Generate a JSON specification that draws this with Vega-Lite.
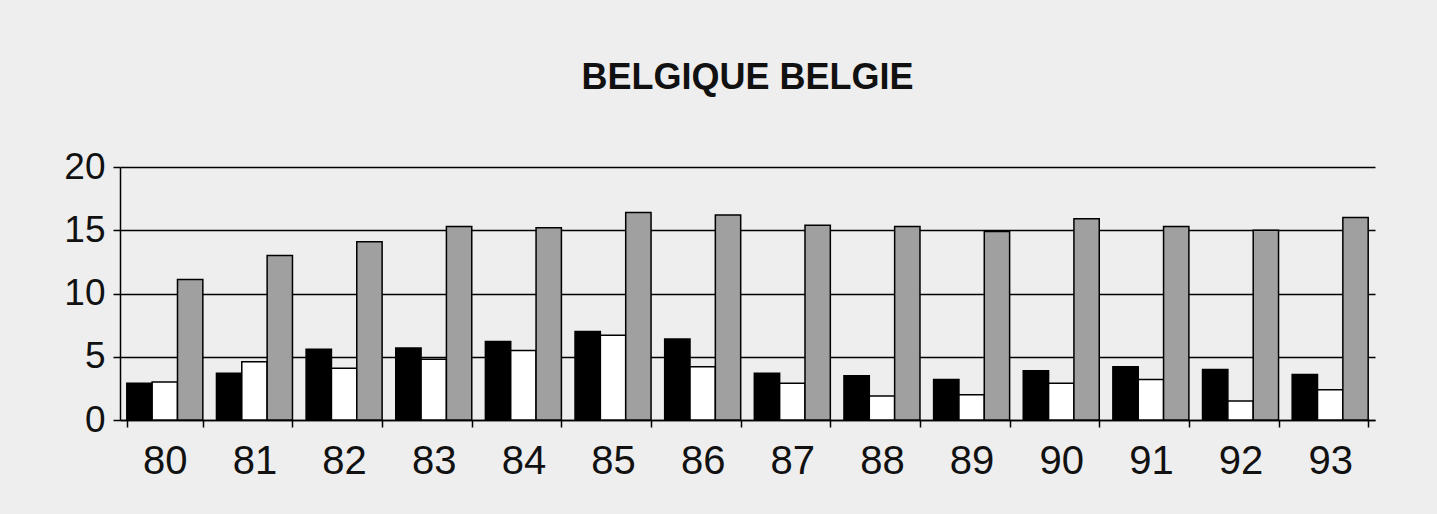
{
  "$schema": "https://vega.github.io/schema/vega-lite/v6.json",
  "width": 1255,
  "height": 253,
  "autosize": {"type": "none"},
  "padding": {"left": 120, "top": 167, "right": 62, "bottom": 94},
  "background": "#eeeeee",
  "title": {
    "text": "BELGIQUE BELGIE",
    "font": "Liberation Sans",
    "fontWeight": "bold",
    "fontSize": 36,
    "color": "#111111",
    "anchor": "middle",
    "offset": 51
  },
  "config": {
    "view": {"stroke": null},
    "axis": {"labelFont": "Liberation Sans", "labelColor": "#111111"}
  },
  "data": {
    "values": [
      {"year": "80", "series": "a", "value": 2.9},
      {"year": "80", "series": "b", "value": 3.0},
      {"year": "80", "series": "c", "value": 11.1},
      {"year": "81", "series": "a", "value": 3.7},
      {"year": "81", "series": "b", "value": 4.6},
      {"year": "81", "series": "c", "value": 13.0},
      {"year": "82", "series": "a", "value": 5.6},
      {"year": "82", "series": "b", "value": 4.1},
      {"year": "82", "series": "c", "value": 14.1},
      {"year": "83", "series": "a", "value": 5.7},
      {"year": "83", "series": "b", "value": 4.8},
      {"year": "83", "series": "c", "value": 15.3},
      {"year": "84", "series": "a", "value": 6.2},
      {"year": "84", "series": "b", "value": 5.5},
      {"year": "84", "series": "c", "value": 15.2},
      {"year": "85", "series": "a", "value": 7.0},
      {"year": "85", "series": "b", "value": 6.7},
      {"year": "85", "series": "c", "value": 16.4},
      {"year": "86", "series": "a", "value": 6.4},
      {"year": "86", "series": "b", "value": 4.2},
      {"year": "86", "series": "c", "value": 16.2},
      {"year": "87", "series": "a", "value": 3.7},
      {"year": "87", "series": "b", "value": 2.9},
      {"year": "87", "series": "c", "value": 15.4},
      {"year": "88", "series": "a", "value": 3.5},
      {"year": "88", "series": "b", "value": 1.9},
      {"year": "88", "series": "c", "value": 15.3},
      {"year": "89", "series": "a", "value": 3.2},
      {"year": "89", "series": "b", "value": 2.0},
      {"year": "89", "series": "c", "value": 14.9},
      {"year": "90", "series": "a", "value": 3.9},
      {"year": "90", "series": "b", "value": 2.9},
      {"year": "90", "series": "c", "value": 15.9},
      {"year": "91", "series": "a", "value": 4.2},
      {"year": "91", "series": "b", "value": 3.2},
      {"year": "91", "series": "c", "value": 15.3},
      {"year": "92", "series": "a", "value": 4.0},
      {"year": "92", "series": "b", "value": 1.5},
      {"year": "92", "series": "c", "value": 15.0},
      {"year": "93", "series": "a", "value": 3.6},
      {"year": "93", "series": "b", "value": 2.4},
      {"year": "93", "series": "c", "value": 16.0}
    ]
  },
  "mark": {"type": "bar", "stroke": "#000000", "strokeWidth": 1.5},
  "encoding": {
    "x": {
      "field": "year",
      "type": "nominal",
      "title": null,
      "scale": {"paddingInner": 0.152, "paddingOuter": 0.076},
      "axis": {
        "labelAngle": 0,
        "labelFontSize": 40,
        "labelPadding": 14,
        "tickBand": "extent",
        "tickSize": 7,
        "tickColor": "#000000",
        "tickWidth": 1.5,
        "domainColor": "#000000",
        "domainWidth": 1.5,
        "grid": false
      }
    },
    "xOffset": {
      "field": "series",
      "type": "nominal",
      "scale": {"paddingInner": 0, "paddingOuter": 0}
    },
    "y": {
      "field": "value",
      "type": "quantitative",
      "title": null,
      "scale": {"domain": [0, 20], "nice": false},
      "axis": {
        "values": [0, 5, 10, 15, 20],
        "labelFontSize": 37,
        "labelPadding": 8,
        "tickSize": 7,
        "tickColor": "#000000",
        "tickWidth": 1.5,
        "domainColor": "#000000",
        "domainWidth": 1.5,
        "grid": true,
        "gridColor": "#000000",
        "gridWidth": 1.5,
        "gridOpacity": 1
      }
    },
    "fill": {
      "field": "series",
      "type": "nominal",
      "scale": {"domain": ["a", "b", "c"], "range": ["#000000", "#ffffff", "#a0a0a0"]},
      "legend": null
    }
  }
}
